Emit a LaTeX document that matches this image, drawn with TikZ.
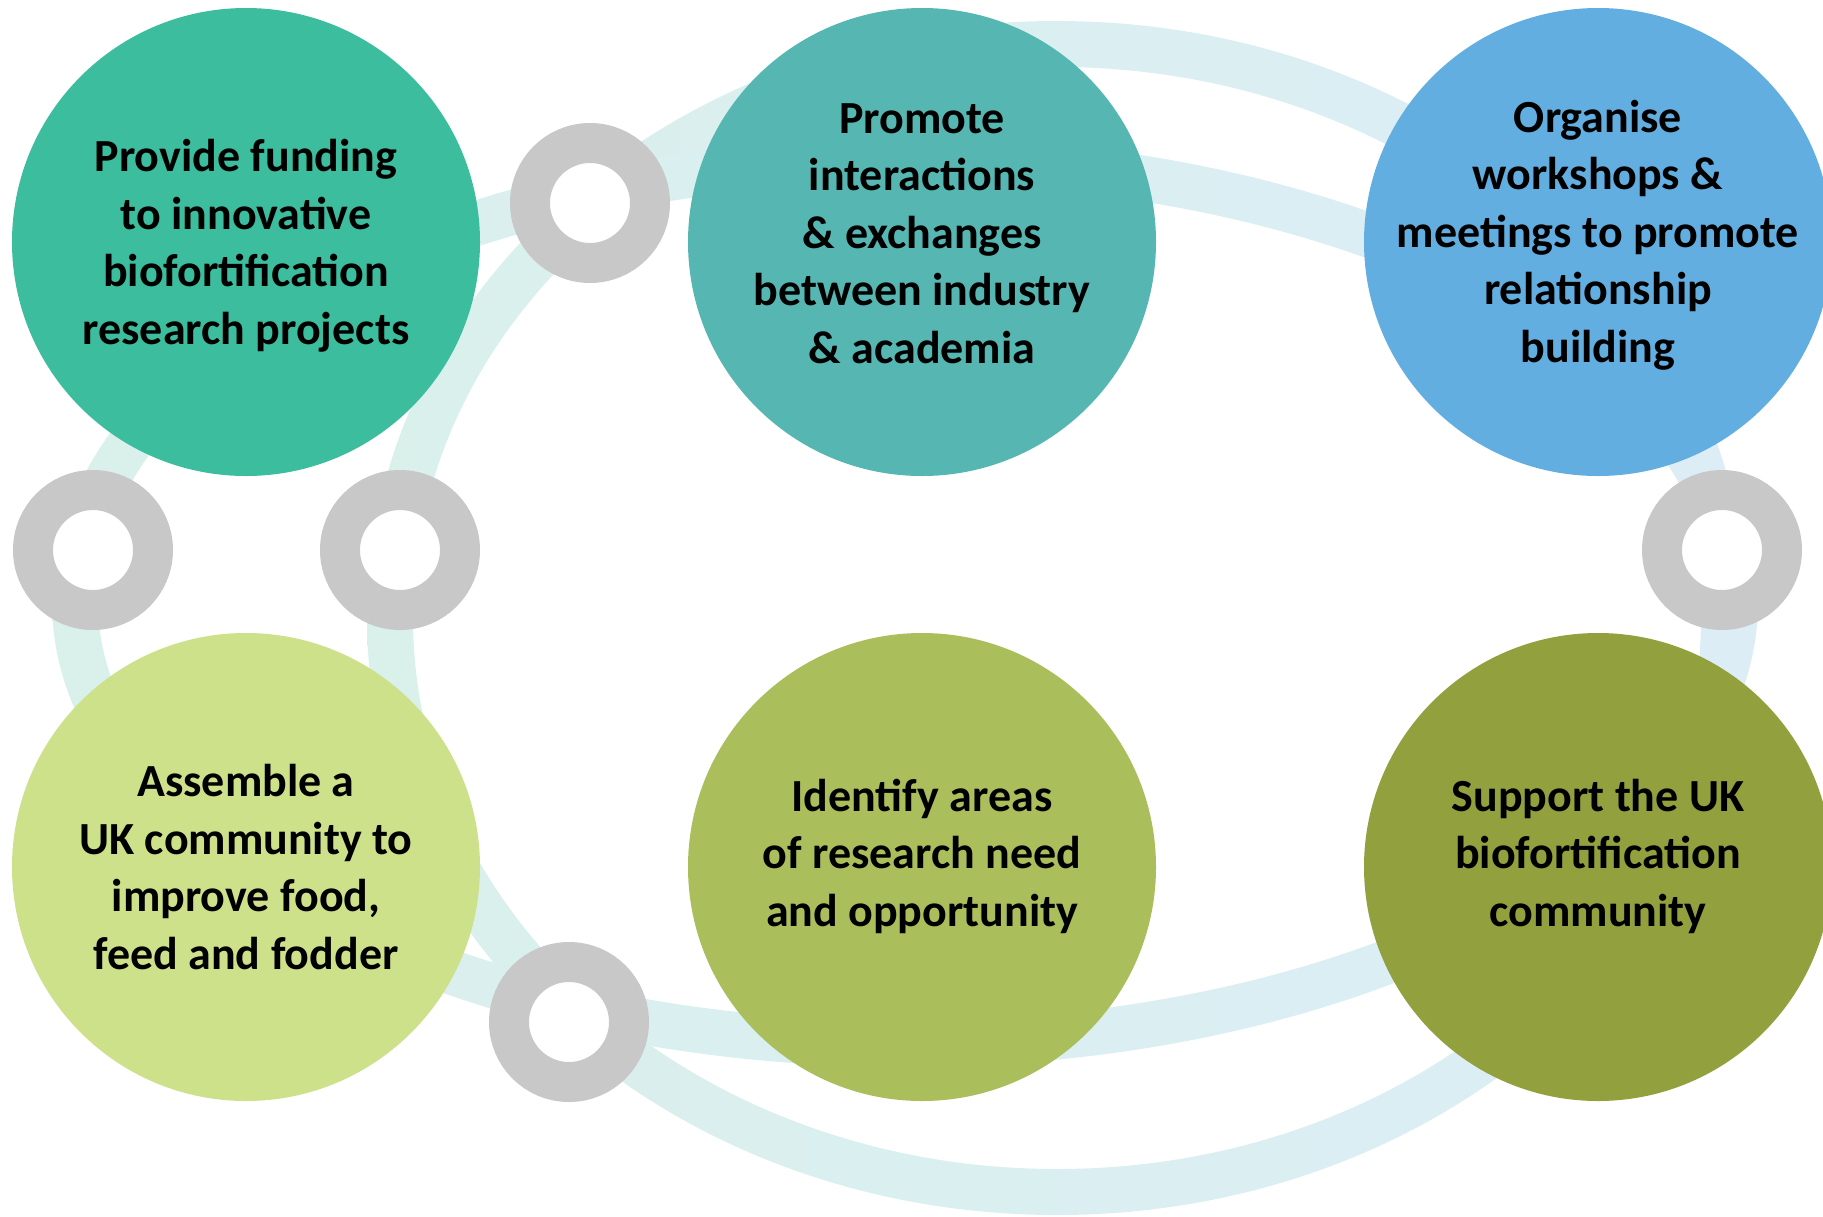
\documentclass[tikz,border=0pt]{standalone}
\usepackage{fontspec}
\setmainfont{Carlito}

\definecolor{fundgreen}{RGB}{60,189,157}
\definecolor{promoteteal}{RGB}{85,182,178}
\definecolor{organiseblue}{RGB}{99,174,224}
\definecolor{assemblelime}{RGB}{205,224,138}
\definecolor{identifyolive}{RGB}{170,191,92}
\definecolor{supportolive}{RGB}{147,160,62}
\definecolor{ringgray}{RGB}{200,200,200}
\definecolor{bandmint}{RGB}{217,240,235}
\definecolor{bandblue}{RGB}{220,237,246}

\tikzstyle{goal} = [circle, minimum size=468pt, inner sep=-30pt, text=black,
align=center, font=\bfseries\fontsize{46}{57.5}\selectfont]
\tikzstyle{link} = [circle, minimum size=120pt, inner sep=0pt, draw=ringgray,
line width=40pt, fill=white]
\tikzstyle{band} = [even odd rule, left color=bandmint, right color=bandblue]

\begin{document}
\begin{tikzpicture}[x=1pt, y=-1pt, node distance=676pt]
\useasboundingbox (0,0) rectangle (1823,1216);

% the two loops behind everything
\coordinate(outerloop) at (1057,618);
\coordinate(innerloop) at (905,602);
\shade[band] (outerloop) ellipse [x radius=690pt, y radius=597pt]
(outerloop) ellipse [x radius=644pt, y radius=551pt];
\shade[band] (innerloop) ellipse [x radius=853pt, y radius=465pt]
(innerloop) ellipse [x radius=807pt, y radius=419pt];

\node(funding)[goal, fill=fundgreen, text depth=-4pt] at (246,242)
{Provide funding\\to innovative\\biofortification\\research projects};
\node(promote)[goal, fill=promoteteal, text depth=17pt, right of=funding]
{Promote\\interactions\\\& exchanges\\between industry\\\& academia};
\node(organise)[goal, fill=organiseblue, text depth=22pt, right of=promote]
{Organise\\workshops \&\\meetings to promote\\relationship\\building};
\node(assemble)[goal, fill=assemblelime, text depth=0pt, below of=funding,
yshift=51pt]
{Assemble a\\UK community to\\improve food,\\feed and fodder};
\node(identify)[goal, fill=identifyolive, text depth=29pt, right of=assemble]
{Identify areas\\of research need\\and opportunity};
\node(support)[goal, fill=supportolive, text depth=29pt, right of=identify]
{Support the UK\\biofortification\\community};

% links on the loops
\node(ringtop)[link] at (590,203){};
\node(ringleft)[link] at (93,550){};
\node(ringmid)[link] at (400,550){};
\node(ringright)[link] at (1722,550){};
\node(ringbottom)[link] at (569,1022){};

\end{tikzpicture}
\end{document}
